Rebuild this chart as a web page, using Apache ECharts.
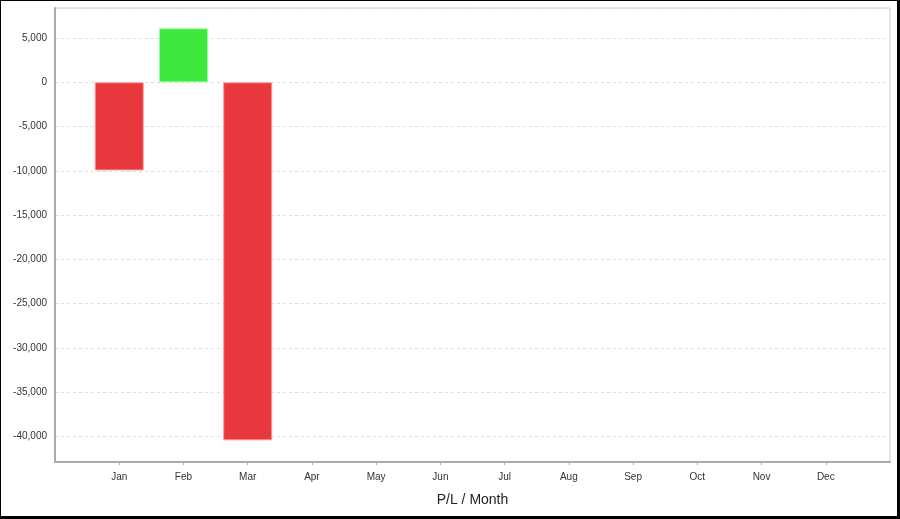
<!DOCTYPE html>
<html>
<head>
<meta charset="utf-8">
<script src="https://cdn.jsdelivr.net/npm/echarts@6/dist/echarts.min.js"></script>
<style>
  html, body { margin: 0; padding: 0; background: #fff; }
  #wrap { width: 900px; height: 519px; box-sizing: border-box;
          border-style: solid; border-color: #000; border-width: 1px 3px 3px 1px; }
  #chart { width: 896px; height: 515px; }
</style>
</head>
<body>
<div id="wrap"><div id="chart"></div></div>
<script>
// Data
const months = ['Jan', 'Feb', 'Mar', 'Apr', 'May', 'Jun', 'Jul', 'Aug', 'Sep', 'Oct', 'Nov', 'Dec'];
const plValues = [-9950, 6100, -40450, null, null, null, null, null, null, null, null, null];
const yTickStep = 5000;

const seriesData = months.map((m, i) => {
  const v = plValues[i];
  if (v === null) return null;
  return {
    value: [i + 1, v],
    itemStyle: v >= 0
      ? { color: '#3ee83c', borderColor: 'rgba(150,255,150,0.9)', borderWidth: 1 }
      : { color: '#e8373d', borderColor: 'rgba(255,150,150,0.9)', borderWidth: 1 }
  };
}).filter(d => d !== null);

const chart = echarts.init(document.getElementById('chart'), null, { renderer: 'canvas' });
chart.setOption({
  animation: false,
  backgroundColor: '#fff',
  grid: {
    left: 54, right: 7, top: 7, bottom: 54,
    show: true, borderColor: '#cccccc', borderWidth: 1, backgroundColor: '#fff'
  },
  xAxis: {
    type: 'value',
    min: 0, max: months.length + 1, interval: 1,
    name: 'P/L / Month',
    nameLocation: 'middle',
    nameGap: 31,
    nameTextStyle: { fontFamily: 'Liberation Sans', fontSize: 14, color: '#222' },
    axisLine: { show: true, onZero: false, lineStyle: { color: '#aaaaaa', width: 2 } },
    axisTick: { show: true, length: 3, lineStyle: { color: '#aaaaaa' } },
    axisLabel: {
      margin: 10,
      fontFamily: 'Liberation Sans', fontSize: 10, color: '#333',
      showMinLabel: false, showMaxLabel: false,
      formatter: v => (v >= 1 && v <= months.length) ? months[v - 1] : ''
    },
    splitLine: { show: false }
  },
  yAxis: {
    type: 'value',
    min: -42900, max: 8400,
    splitNumber: 10,
    axisLine: { show: true, onZero: false, lineStyle: { color: '#aaaaaa', width: 2 } },
    axisTick: { show: false },
    axisLabel: {
      margin: 8,
      fontFamily: 'Liberation Sans', fontSize: 10, color: '#333',
      formatter: v => (v % yTickStep === 0) ? v.toLocaleString('en-US') : ''
    },
    splitLine: { show: true, lineStyle: { color: '#dddddd', type: [3, 3], width: 1 } }
  },
  series: [{
    type: 'bar',
    barWidth: 49,
    data: seriesData
  }]
});
</script>
</body>
</html>
